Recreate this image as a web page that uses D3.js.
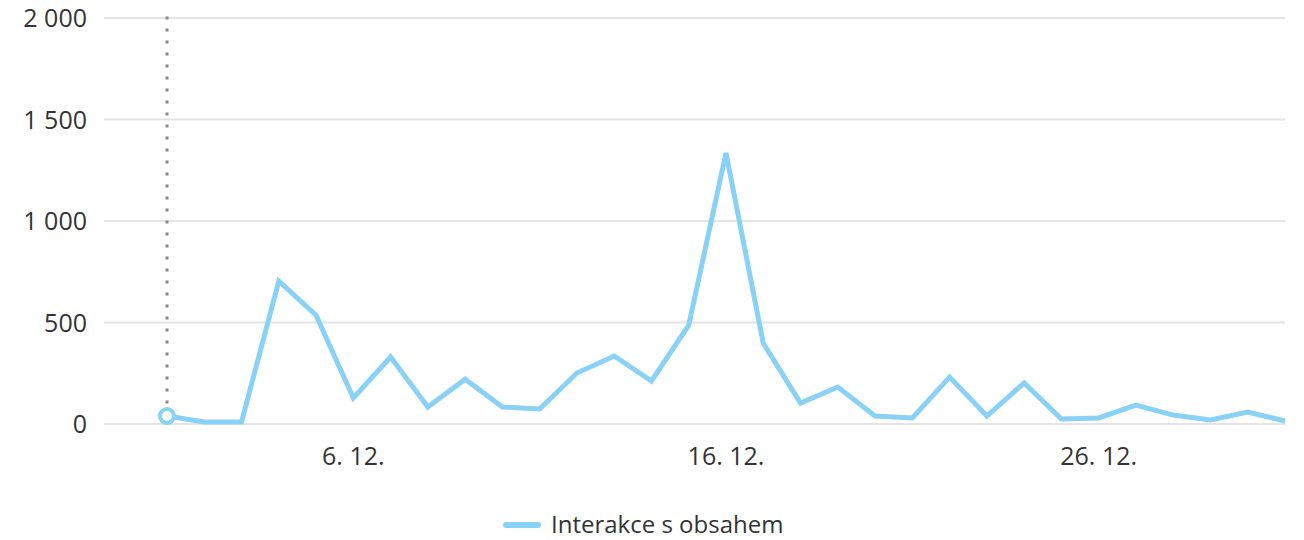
<!DOCTYPE html>
<html>
<head>
<meta charset="utf-8">
<script src="https://cdn.jsdelivr.net/npm/d3@7"></script>
<style>
  body { margin: 0; background: #fff; }
  svg text { font-family: "Open Sans", "Noto Sans", sans-serif; fill: #333; }
</style>
</head>
<body>
<div id="chart"></div>
<script>
'use strict';

var days = d3.range(1, 32);
var interakce = [39, 10, 10, 704, 536, 128, 330, 84, 221, 84, 74, 251, 335, 212, 487,
  1335, 398, 103, 182, 39, 30, 231, 39, 202, 25, 30, 93, 44, 20, 59, 15];
var yTicks = [0, 500, 1000, 1500, 2000];
var xTicks = [6, 16, 26];
var seriesName = 'Interakce s obsahem';

var width = 1304, height = 540;
var margin = {top: 18, right: 19, bottom: 116, left: 104};
var lineColor = '#89d2f5';

var svg = d3.select('#chart').append('svg')
  .attr('width', width)
  .attr('height', height);

// days sit between x=167 (1st) and x=1285 (31st), grid starts further left
var x = d3.scaleLinear()
  .domain([1, 31])
  .range([167, width - margin.right]);

var y = d3.scaleLinear()
  .domain([0, 2000])
  .range([height - margin.bottom, margin.top]);

var fmt = function(d) { return d3.format(',')(d).replace(/,/g, ' '); };

// gridlines
svg.append('g')
  .selectAll('line')
  .data(yTicks)
  .enter()
  .append('line')
  .attr('x1', margin.left)
  .attr('x2', width - margin.right)
  .attr('y1', function(d) { return y(d); })
  .attr('y2', function(d) { return y(d); })
  .attr('stroke', '#e4e4e4')
  .attr('stroke-width', 2);

// y labels
svg.append('g')
  .selectAll('text')
  .data(yTicks)
  .enter()
  .append('text')
  .attr('x', 87)
  .attr('y', function(d) { return y(d); })
  .attr('dy', '0.36em')
  .attr('text-anchor', 'end')
  .style('font-size', '25px')
  .text(fmt);

// x labels
svg.append('g')
  .selectAll('text')
  .data(xTicks)
  .enter()
  .append('text')
  .attr('x', function(d) { return x(d); })
  .attr('y', 456)
  .attr('dy', '0.36em')
  .attr('text-anchor', 'middle')
  .style('font-size', '25px')
  .text(function(d) { return d + '. 12.'; });

// hover guide
svg.append('line')
  .attr('x1', x(1))
  .attr('x2', x(1))
  .attr('y1', y(2000) - 1.5)
  .attr('y2', y(interakce[0]) - 8)
  .attr('stroke', '#8a8a8a')
  .attr('stroke-width', 3)
  .attr('stroke-dasharray', '3,9');

var line = d3.line()
  .x(function(d, i) { return x(days[i]); })
  .y(function(d) { return y(d); });

svg.append('path')
  .datum(interakce)
  .attr('fill', 'none')
  .attr('stroke', lineColor)
  .attr('stroke-width', 5)
  .attr('stroke-linejoin', 'miter')
  .attr('d', line);

svg.append('circle')
  .attr('cx', x(1))
  .attr('cy', y(interakce[0]))
  .attr('r', 7)
  .attr('fill', '#fff')
  .attr('stroke', lineColor)
  .attr('stroke-width', 4);

// legend
var legend = svg.append('g').attr('transform', 'translate(506,525)');
legend.append('line')
  .attr('x1', 0).attr('x2', 32)
  .attr('stroke', lineColor)
  .attr('stroke-width', 6)
  .attr('stroke-linecap', 'round');
legend.append('text')
  .attr('x', 45)
  .attr('dy', '0.33em')
  .style('font-size', '24px')
  .text(seriesName);
</script>
</body>
</html>
